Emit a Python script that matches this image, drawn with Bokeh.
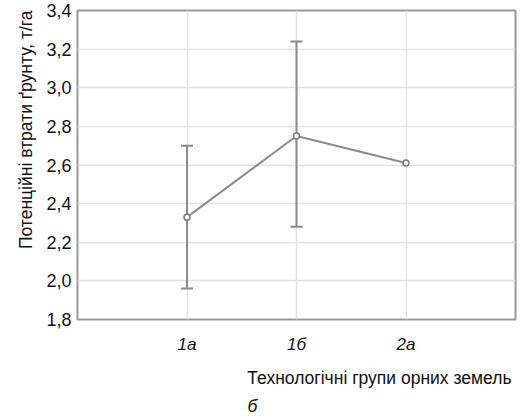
import math
from bokeh.plotting import figure
from bokeh.models import Range1d, FixedTicker, Title, ColumnDataSource
from bokeh.embed import file_html
from bokeh.resources import INLINE

groups = ["1а", "1б", "2а"]
group_pos = [1, 2, 3]
means = [2.33, 2.75, 2.61]
err_upper = [2.70, 3.24, float("nan")]
err_lower = [1.96, 2.28, float("nan")]
y_ticks = [1.8, 2.0, 2.2, 2.4, 2.6, 2.8, 3.0, 3.2, 3.4]

FONT = "Liberation Sans"
GRAY = "#8c8c8c"

p = figure(width=531, height=420, output_backend="svg", toolbar_location=None,
           x_range=Range1d(0, 4), y_range=Range1d(1.8, 3.4),
           min_border_left=77, min_border_right=16, min_border_top=10,
           min_border_bottom=101)

p.background_fill_color = "white"
p.border_fill_color = "white"
p.outline_line_color = "#999999"
p.outline_line_width = 2

# grids
p.xgrid.ticker = FixedTicker(ticks=group_pos)
p.ygrid.ticker = FixedTicker(ticks=y_ticks)
p.xgrid.grid_line_color = "#e3e3e3"
p.ygrid.grid_line_color = "#e3e3e3"
p.xgrid.grid_line_width = 1.5
p.ygrid.grid_line_width = 1.5

# x axis
p.xaxis.ticker = FixedTicker(ticks=group_pos)
p.xaxis.major_label_overrides = {x: g for x, g in zip(group_pos, groups)}
p.xaxis.major_label_text_font = FONT
p.xaxis.major_label_text_font_style = "italic"
p.xaxis.major_label_text_font_size = "17px"
p.xaxis.major_label_text_color = "#111111"
p.xaxis.major_label_standoff = 15
p.xaxis.major_tick_out = 0
p.xaxis.major_tick_in = 0
p.xaxis.minor_tick_out = 0
p.xaxis.minor_tick_in = 0
p.xaxis.axis_line_color = None

# y axis
p.yaxis.ticker = FixedTicker(ticks=y_ticks)
p.yaxis.major_label_overrides = {t: f"{t:.1f}".replace(".", ",") for t in y_ticks}
p.yaxis.major_label_text_font = FONT
p.yaxis.major_label_text_font_size = "18px"
p.yaxis.major_label_text_color = "#111111"
p.yaxis.major_label_standoff = 6
p.yaxis.major_tick_out = 0
p.yaxis.major_tick_in = 0
p.yaxis.minor_tick_out = 0
p.yaxis.minor_tick_in = 0
p.yaxis.axis_line_color = None

# titles
ytitle = Title(text="Потенційні втрати ґрунту, т/га", align="right",
               text_font=FONT, text_font_size="17.5px", text_font_style="normal",
               text_color="#111111", standoff=16, offset=0)
p.add_layout(ytitle, "left")

xtitle = Title(text="Технологічні групи орних земель", align="right",
               text_font=FONT, text_font_size="17.5px", text_font_style="normal",
               text_color="#111111", standoff=18, offset=4)
p.add_layout(xtitle, "below")
subt = Title(text="б", align="left", text_font=FONT, text_font_size="17.5px",
             text_font_style="italic", text_color="#111111", standoff=-6, offset=170)
p.add_layout(subt, "below")

# error bars
cap = 0.055
eb = ColumnDataSource(dict(
    x=group_pos, lo=err_lower, hi=err_upper,
    x0=[x - cap for x in group_pos], x1=[x + cap for x in group_pos]))
p.segment(x0="x", y0="lo", x1="x", y1="hi", source=eb, line_color=GRAY, line_width=2)
p.segment(x0="x0", y0="hi", x1="x1", y1="hi", source=eb, line_color=GRAY, line_width=2)
p.segment(x0="x0", y0="lo", x1="x1", y1="lo", source=eb, line_color=GRAY, line_width=2)

# mean line
p.line(group_pos, means, line_color=GRAY, line_width=2)
p.scatter(group_pos, means, size=6, fill_color="white", line_color="#7a7a7a", line_width=1.5)

open("out.html", "w").write(file_html(p, INLINE))
